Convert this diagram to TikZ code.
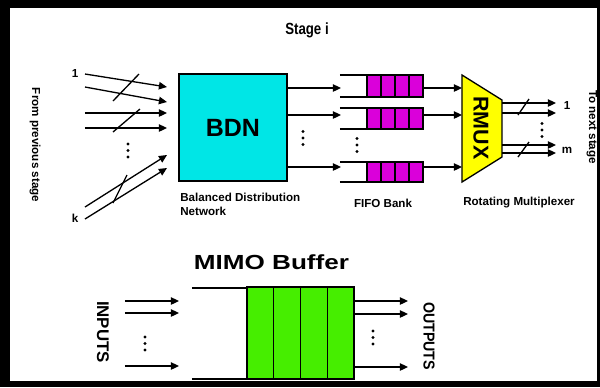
\documentclass[tikz,border=0pt]{standalone}
\usepackage{fontspec}
\setmainfont{Liberation Sans}
\usetikzlibrary{arrows.meta}
\definecolor{bdncyan}{RGB}{0,230,230}
\definecolor{fifomag}{RGB}{218,0,218}
\definecolor{mimogreen}{RGB}{70,238,0}
\definecolor{muxyellow}{RGB}{255,255,0}
\begin{document}
\begin{tikzpicture}[x=0.02cm,y=-0.02cm,
  wire/.style={line width=0.75pt},
  arr/.style={wire,-{Triangle[length=4.6pt,width=4.2pt]}},
  lbl/.style={font=\fontsize{6.6}{7.6}\selectfont\bfseries,inner sep=0pt},
  cell/.style={draw,line width=0.75pt},
  vdots3/.pic={\foreach \k in {-1,0,1}\fill (0,6.5*\k) circle (0.95pt);}]

% frame
\fill[black] (0,0) rectangle (600,387);
\fill[white] (10,8) rectangle (597,381);
\useasboundingbox (0,0) rectangle (600,387);

% title
\node[inner sep=0pt,font=\fontsize{9.2}{11}\selectfont\bfseries] (title) at (307,30) {\scalebox{0.82}[1]{Stage i}};

% ---------- inputs from the previous stage ----------
\node[lbl,rotate=-90] (from) at (35,145) {From previous stage};
\node[lbl] (in1) at (75,74) {1};
\node[lbl] (ink) at (75,218) {k};
\coordinate (a1s) at (85,74);  \coordinate (a1e) at (167,87);
\coordinate (a2s) at (85,87);  \coordinate (a2e) at (167,102);
\coordinate (a3s) at (85,113); \coordinate (a3e) at (167,113);
\coordinate (a4s) at (85,128); \coordinate (a4e) at (167,128);
\coordinate (a5s) at (85,207); \coordinate (a5e) at (167,155);
\coordinate (a6s) at (85,219); \coordinate (a6e) at (167,168);
\foreach \i in {1,...,6} \draw[arr] (a\i s) -- (a\i e);
\coordinate (s1a) at (113,101); \coordinate (s1b) at (139,74);
\coordinate (s2a) at (113,132); \coordinate (s2b) at (140,109);
\coordinate (s3a) at (113,203); \coordinate (s3b) at (127,175);
\foreach \i in {1,2,3} \draw[wire] (s\i a) -- (s\i b);
\pic at (128,150.5) {vdots3};

% ---------- balanced distribution network ----------
\node[draw,line width=0.75pt,fill=bdncyan,minimum width=2.16cm,minimum height=2.14cm,inner sep=0pt,
      font=\fontsize{14.2}{16}\selectfont\bfseries] (bdn) at (233,127.5) {BDN};
\node[lbl,anchor=west,align=left] (bdnlbl) at (180,204.5) {Balanced Distribution\\Network};
\pic at (303,138) {vdots3};

% ---------- FIFO bank ----------
\foreach \n/\t/\b/\a in {1/75/97/88, 2/108/129/115, 3/162/182/167}{
  \coordinate (q\n in) at (341,\a);
  \coordinate (q\n out) at (423,\a);
  \coordinate (m\n) at (462,\a);
  \draw[wire] (340,\t) -- (367,\t) (340,\b) -- (367,\b);
  \foreach \c in {0,1,2,3}
    \draw[cell,fill=fifomag] (367+14*\c,\t) rectangle (381+14*\c,\b);
  \draw[arr] (bdn.east |- q\n in) -- (q\n in);
  \draw[arr] (q\n out) -- (m\n);
}
\pic at (357,145) {vdots3};
\node[lbl] (fifolbl) at (383,203) {FIFO Bank};

% ---------- rotating multiplexer ----------
\draw[line width=0.75pt,fill=muxyellow] (462,75) -- (502,100) -- (502,157) -- (462,182) -- cycle;
\node[rotate=-90,inner sep=0pt,font=\fontsize{12.2}{14}\selectfont\bfseries] (rmux) at (481,128) {RMUX};
\node[lbl] (rmuxlbl) at (519,203) {Rotating Multiplexer};
\foreach \n/\y in {1/103, 2/113, 3/145, 4/153}{
  \coordinate (o\n s) at (502,\y);
  \coordinate (o\n e) at (556,\y);
  \draw[arr] (o\n s) -- (o\n e);
}
\draw[wire] (518,115) -- (529,99);
\draw[wire] (518,157) -- (529,142);
\pic at (542,130) {vdots3};
\node[lbl] (out1) at (567,106) {1};
\node[lbl] (outm) at (567,150) {m};
\node[lbl,rotate=-90] (tonext) at (592,127) {To next stage};

% ---------- MIMO buffer ----------
\node[inner sep=0pt,font=\fontsize{11.6}{13}\selectfont\bfseries] (mimo) at (271.5,262) {\scalebox{1.28}[1]{MIMO Buffer}};
\node[rotate=-90,inner sep=0pt,font=\fontsize{9.6}{11}\selectfont\bfseries] (inputs) at (103,332) {INPUTS};
\node[rotate=-90,inner sep=0pt,font=\fontsize{9}{11}\selectfont\bfseries] (outputs) at (429,336) {\scalebox{0.9}[1]{OUTPUTS}};
\draw[wire] (192,288) -- (247,288) (192,379) -- (247,379);
\foreach \c in {0,1,2,3}
  \draw[cell,fill=mimogreen] (247+26.75*\c,287) rectangle (273.75+26.75*\c,379);
\foreach \n/\yi/\yo in {1/301/301, 2/313/314, 3/366/367}{
  \coordinate (bi\n s) at (125,\yi); \coordinate (bi\n e) at (179,\yi);
  \coordinate (bo\n s) at (354,\yo); \coordinate (bo\n e) at (408,\yo);
  \draw[arr] (bi\n s) -- (bi\n e);
  \draw[arr] (bo\n s) -- (bo\n e);
}
\pic at (145,343.5) {vdots3};
\pic at (373,337.5) {vdots3};
\end{tikzpicture}
\end{document}
